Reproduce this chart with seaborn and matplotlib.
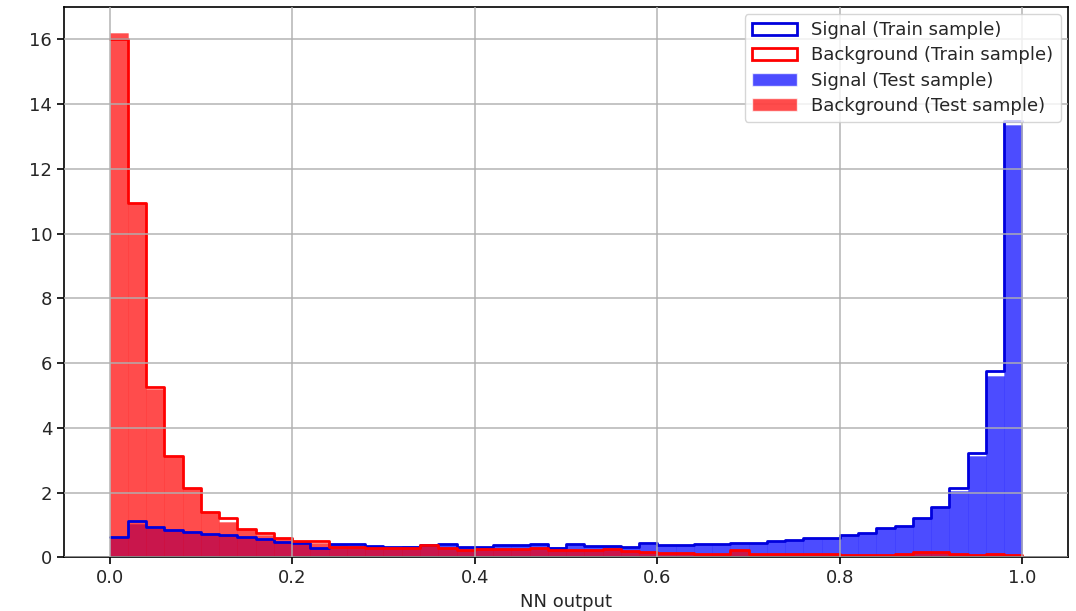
'''NN output distributions for signal and background, train vs test.'''
import numpy as np
import pandas as pd
import seaborn as sns
import matplotlib
matplotlib.use("Agg")
import matplotlib.pyplot as plt
from matplotlib.patches import Patch

# 50 bins between 0 and 1, heights (density)
n_bins = 50

sig_train = [0.61, 1.11, 0.92, 0.85, 0.77, 0.72, 0.69, 0.61, 0.55, 0.46,
             0.43, 0.28, 0.40, 0.40, 0.36, 0.33, 0.33, 0.38, 0.40, 0.32,
             0.32, 0.39, 0.39, 0.42, 0.30, 0.41, 0.35, 0.36, 0.32, 0.45,
             0.38, 0.38, 0.40, 0.41, 0.44, 0.45, 0.50, 0.53, 0.58, 0.60,
             0.70, 0.76, 0.90, 0.98, 1.20, 1.54, 2.15, 3.22, 5.75, 13.48]
sig_test = [0.61, 1.02, 0.90, 0.84, 0.76, 0.72, 0.68, 0.61, 0.55, 0.46,
            0.42, 0.30, 0.40, 0.39, 0.36, 0.33, 0.34, 0.37, 0.39, 0.33,
            0.32, 0.38, 0.39, 0.41, 0.31, 0.40, 0.35, 0.36, 0.33, 0.40,
            0.38, 0.38, 0.40, 0.41, 0.44, 0.45, 0.50, 0.53, 0.58, 0.60,
            0.70, 0.76, 0.90, 0.98, 1.20, 1.54, 2.06, 3.12, 5.60, 13.35]
bg_train = [16.0, 10.96, 5.26, 3.14, 2.15, 1.41, 1.22, 0.87, 0.75, 0.58,
            0.49, 0.49, 0.33, 0.33, 0.30, 0.30, 0.30, 0.38, 0.30, 0.22,
            0.26, 0.24, 0.24, 0.30, 0.22, 0.23, 0.22, 0.26, 0.19, 0.17,
            0.12, 0.12, 0.11, 0.11, 0.22, 0.11, 0.10, 0.10, 0.09, 0.09,
            0.08, 0.08, 0.08, 0.09, 0.17, 0.15, 0.09, 0.08, 0.10, 0.08]
bg_test = [16.2, 10.96, 5.20, 3.14, 2.15, 1.41, 1.10, 0.87, 0.68, 0.58,
           0.49, 0.45, 0.33, 0.33, 0.30, 0.29, 0.30, 0.36, 0.30, 0.22,
           0.25, 0.24, 0.24, 0.29, 0.22, 0.23, 0.21, 0.26, 0.19, 0.17,
           0.12, 0.12, 0.11, 0.11, 0.21, 0.11, 0.10, 0.10, 0.09, 0.09,
           0.08, 0.08, 0.08, 0.09, 0.16, 0.15, 0.09, 0.08, 0.10, 0.08]

edges = np.linspace(0.0, 1.0, n_bins + 1)
centers = (edges[:-1] + edges[1:]) / 2
df = pd.DataFrame({
    "x": centers,
    "sig_train": sig_train,
    "sig_test": sig_test,
    "bg_train": bg_train,
    "bg_test": bg_test,
})

sns.set_theme(style="whitegrid")
plt.rcParams["font.family"] = ["DejaVu Sans"]
plt.rcParams["axes.edgecolor"] = "black"
plt.rcParams["grid.color"] = "#b0b0b0"

fig, ax = plt.subplots(figsize=(10.76, 6.11), dpi=100)

hist_kw = dict(data=df, x="x", bins=n_bins, binrange=(0, 1), ax=ax)
# train samples: outlined steps
sns.histplot(weights="sig_train", element="step", fill=False,
             color="#0000dd", linewidth=2, **hist_kw)
sns.histplot(weights="bg_train", element="step", fill=False,
             color="red", linewidth=2, **hist_kw)
# test samples: filled bars
sns.histplot(weights="sig_test", element="bars", fill=True, color="blue",
             alpha=0.7, edgecolor=(0, 0, 1, 0.25), linewidth=0.6, **hist_kw)
sns.histplot(weights="bg_test", element="bars", fill=True, color="red",
             alpha=0.7, edgecolor=(1, 0, 0, 0.25), linewidth=0.6, **hist_kw)

ax.set_axisbelow(False)
ax.grid(True, linewidth=1.3, alpha=0.8)
ax.set_xlim(-0.05, 1.05)
ax.set_ylim(0, 17.01)
ax.set_xticks([0.0, 0.2, 0.4, 0.6, 0.8, 1.0])
ax.set_yticks(range(0, 17, 2))
ax.set_xlabel("NN output", fontsize=13, labelpad=4)
ax.set_ylabel("")
ax.tick_params(axis="both", labelsize=13, length=5, width=1.2,
               color="black", bottom=True, left=True)
for sp in ax.spines.values():
    sp.set_color("black")
    sp.set_linewidth(1.2)

handles = [
    Patch(facecolor="none", edgecolor="#0000dd", linewidth=2,
          label="Signal (Train sample)"),
    Patch(facecolor="none", edgecolor="red", linewidth=2,
          label="Background (Train sample)"),
    Patch(facecolor="blue", alpha=0.7, label="Signal (Test sample)"),
    Patch(facecolor="red", alpha=0.7, label="Background (Test sample)"),
]
ax.legend(handles=handles, loc="upper right", fontsize=13,
          framealpha=0.8, borderaxespad=0.4, handlelength=2.5,
          labelspacing=0.4)

fig.subplots_adjust(left=0.0595, right=0.9926, top=0.989, bottom=0.088)
fig.savefig("out.png", dpi=100)
